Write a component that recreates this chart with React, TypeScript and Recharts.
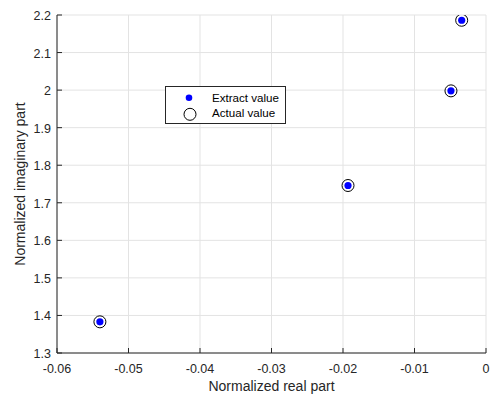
import React from 'react';
import { ScatterChart, Scatter, XAxis, YAxis, CartesianGrid, Legend } from 'recharts';

// extracted vs. actual normalized poles
const seriesNames = ['Extract value', 'Actual value'];
const extractReal = [-0.054, -0.0193, -0.0049, -0.0034];
const extractImag = [1.383, 1.746, 1.998, 2.186];
const actualReal = [-0.054, -0.0193, -0.0049, -0.0034];
const actualImag = [1.383, 1.746, 1.998, 2.186];

const xTicks = [-0.06, -0.05, -0.04, -0.03, -0.02, -0.01, 0];
const yTicks = [1.3, 1.4, 1.5, 1.6, 1.7, 1.8, 1.9, 2, 2.1, 2.2];

const font = '"Liberation Sans", Arial, Helvetica, sans-serif';
const ink = '#262626';
const tickLen = 5;

const extractData = extractReal.map((x, i) => ({ x, y: extractImag[i] }));
const actualData = actualReal.map((x, i) => ({ x, y: actualImag[i] }));

const BottomTick = ({ x, y, payload }: any) => (
  <g>
    <line x1={x} y1={y} x2={x} y2={y - tickLen} stroke={ink} strokeWidth={1} />
    <text x={x} y={y + 20} textAnchor="middle" fill={ink} fontSize={12.5} fontFamily={font}>
      {payload.value}
    </text>
  </g>
);

const LeftTick = ({ x, y, payload }: any) => (
  <g>
    <line x1={x} y1={y} x2={x + tickLen} y2={y} stroke={ink} strokeWidth={1} />
    <text x={x - 6} y={y + 5} textAnchor="end" fill={ink} fontSize={12.5} fontFamily={font}>
      {payload.value}
    </text>
  </g>
);

const TopTick = ({ x, y }: any) => (
  <line x1={x} y1={y} x2={x} y2={y + tickLen} stroke={ink} strokeWidth={1} />
);

const RightTick = ({ x, y }: any) => (
  <line x1={x} y1={y} x2={x - tickLen} y2={y} stroke={ink} strokeWidth={1} />
);

const DotShape = (p: any) => <circle cx={p.cx} cy={p.cy} r={3.6} fill="#0000ff" />;
const RingShape = (p: any) => (
  <circle cx={p.cx} cy={p.cy} r={6} fill="none" stroke="#000" strokeWidth={1} />
);

// keep legend rows in plotting order (recharts sorts them by name)
const LegendBox = ({ payload }: any) => {
  const items = [...(payload ?? [])].sort(
    (a: any, b: any) => seriesNames.indexOf(a.value) - seriesNames.indexOf(b.value)
  );
  return (
    <svg width={121} height={38} style={{ display: 'block' }}>
      <rect x={0.5} y={0.5} width={120} height={37} fill="#fff" stroke={ink} />
      <circle cx={24} cy={11.8} r={3.3} fill="#0000ff" />
      <circle cx={25} cy={28.3} r={6} fill="none" stroke="#000" strokeWidth={1} />
      {items.map((it: any, i: number) => (
        <text key={it.value} x={47} y={15.8 + i * 15.6} fill="#000" fontSize={11.6} fontFamily={font}>
          {it.value}
        </text>
      ))}
    </svg>
  );
};

export default function App() {
  return (
    <div style={{ width: 490, height: 395, background: '#fff' }}>
      <style>{'body{margin:0}'}</style>
      <ScatterChart width={490} height={395} margin={{ top: 15, right: 4, bottom: 0, left: 0 }}>
        <CartesianGrid stroke="#e3e3e3" strokeWidth={1} />
        <XAxis
          type="number"
          dataKey="x"
          domain={[-0.06, 0]}
          ticks={xTicks}
          interval={0}
          height={42}
          tickSize={0}
          tickMargin={0}
          tickLine={false}
          axisLine={{ stroke: ink }}
          tick={BottomTick}
          allowDataOverflow
          label={{
            value: 'Normalized real part',
            position: 'insideBottom',
            offset: 4,
            fill: ink,
            fontSize: 14,
            fontFamily: font,
          }}
        />
        <XAxis
          xAxisId="top"
          orientation="top"
          type="number"
          dataKey="x"
          domain={[-0.06, 0]}
          ticks={xTicks}
          interval={0}
          height={0}
          tickSize={0}
          tickMargin={0}
          tickLine={false}
          axisLine={{ stroke: ink }}
          tick={TopTick}
          allowDataOverflow
        />
        <YAxis
          type="number"
          dataKey="y"
          domain={[1.3, 2.2]}
          ticks={yTicks}
          interval={0}
          width={57}
          tickSize={0}
          tickMargin={0}
          tickLine={false}
          axisLine={{ stroke: ink }}
          tick={LeftTick}
          allowDataOverflow
          label={{
            value: 'Normalized imaginary part',
            angle: -90,
            position: 'insideLeft',
            offset: 20,
            style: { textAnchor: 'middle' },
            fill: ink,
            fontSize: 14,
            fontFamily: font,
          }}
        />
        <YAxis
          yAxisId="right"
          orientation="right"
          type="number"
          dataKey="y"
          domain={[1.3, 2.2]}
          ticks={yTicks}
          interval={0}
          width={0}
          tickSize={0}
          tickMargin={0}
          tickLine={false}
          axisLine={{ stroke: ink }}
          tick={RightTick}
          allowDataOverflow
        />
        <Legend
          layout="vertical"
          align="center"
          verticalAlign="middle"
          content={LegendBox}
          wrapperStyle={{ left: 165, top: 86, width: 121, height: 38 }}
        />
        <Scatter
          name={seriesNames[0]}
          data={extractData}
          fill="#0000ff"
          shape={DotShape}
          isAnimationActive={false}
        />
        <Scatter
          name={seriesNames[1]}
          data={actualData}
          fill="#000"
          shape={RingShape}
          isAnimationActive={false}
        />
      </ScatterChart>
    </div>
  );
}
